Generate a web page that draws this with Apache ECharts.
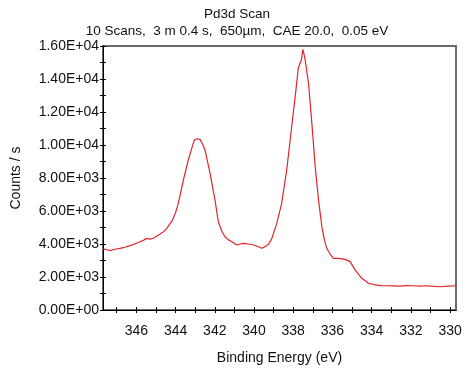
<!DOCTYPE html>
<html>
<head>
<meta charset="utf-8">
<script src="https://cdn.jsdelivr.net/npm/echarts@6/dist/echarts.min.js"></script>
<style>html,body{margin:0;padding:0;background:#fff}#c{width:474px;height:392px}</style>
</head>
<body>
<div id="c"></div>
<script>
const titleText = 'Pd3d Scan';
const subtitleText = '10 Scans,  3 m 0.4 s,  650\u00b5m,  CAE 20.0,  0.05 eV';
const xName = 'Binding Energy (eV)';
const yName = 'Counts / s';

const energy = [347.68, 347.5, 347.34, 347.1, 346.83, 346.6, 346.32, 346.1, 345.81, 345.6, 345.47, 345.3, 345.13, 344.95, 344.79, 344.6, 344.45, 344.3, 344.2, 344.0, 343.86, 343.6, 343.35, 343.15, 343.04, 342.9, 342.75, 342.6, 342.5, 342.24, 341.99, 341.82, 341.65, 341.48, 341.3, 341.13, 340.88, 340.7, 340.54, 340.3, 340.03, 339.8, 339.6, 339.43, 339.25, 339.09, 338.84, 338.6, 338.33, 338.07, 337.9, 337.74, 337.65, 337.58, 337.51, 337.45, 337.39, 337.22, 337.05, 336.88, 336.71, 336.54, 336.4, 336.29, 336.1, 335.95, 335.7, 335.5, 335.35, 335.1, 334.84, 334.5, 334.16, 333.82, 333.5, 333.23, 332.9, 332.55, 332.2, 331.87, 331.5, 331.18, 330.8, 330.5, 330.1, 329.74];
const counts = [3700, 3650, 3600, 3680, 3740, 3800, 3900, 4000, 4140, 4250, 4340, 4300, 4350, 4480, 4600, 4750, 4950, 5200, 5350, 5900, 6460, 7880, 9090, 9900, 10300, 10380, 10340, 10000, 9700, 8280, 6670, 5350, 4800, 4440, 4250, 4140, 3940, 4000, 4040, 4000, 3940, 3850, 3740, 3840, 4000, 4340, 5250, 6400, 8500, 11200, 12930, 14700, 14950, 15200, 15800, 15500, 15150, 13740, 11310, 8690, 6670, 5050, 4200, 3740, 3350, 3130, 3130, 3100, 3070, 2930, 2420, 1920, 1620, 1520, 1480, 1470, 1460, 1450, 1480, 1470, 1450, 1470, 1430, 1410, 1450, 1470];

const xTicks = [330, 331, 332, 333, 334, 335, 336, 337, 338, 339, 340, 341, 342, 343, 344, 345, 346, 347];
const xLabels = [330, 332, 334, 336, 338, 340, 342, 344, 346];
const yTicks = [0, 1000, 2000, 3000, 4000, 5000, 6000, 7000, 8000, 9000, 10000, 11000, 12000, 13000, 14000, 15000, 16000];
const yLabels = [0, 2000, 4000, 6000, 8000, 10000, 12000, 14000, 16000];

const FONT = 'Liberation Sans, Arial, sans-serif';
function sci(v) {
  const s = Number(v).toExponential(2).toUpperCase();
  const m = s.match(/^(-?[\d.]+)E([+-])(\d+)$/);
  if (!m) return s;
  return m[1] + 'E' + m[2] + (m[3].length < 2 ? '0' + m[3] : m[3]);
}

const chart = echarts.init(document.getElementById('c'), null, {renderer: 'canvas'});
const xBase = {type: 'value', min: 329.7, max: 347.7, inverse: true, splitLine: {show: false}};
const yBase = {type: 'value', min: 0, max: 16000, splitLine: {show: false}};
chart.setOption({
  animation: false,
  backgroundColor: '#fff',
  title: {
    text: titleText,
    subtext: subtitleText,
    left: 'center',
    top: 2,
    itemGap: 3,
    textStyle: {fontFamily: FONT, fontSize: 13.5, fontWeight: 'normal', color: '#111'},
    subtextStyle: {fontFamily: FONT, fontSize: 13.5, color: '#111'}
  },
  grid: {left: 103, right: 18, top: 46, bottom: 82, show: true, borderColor: '#6a6a6a', borderWidth: 2, backgroundColor: 'transparent'},
  xAxis: [
    Object.assign({}, xBase, {
      position: 'bottom',
      name: xName, nameLocation: 'middle', nameGap: 41,
      nameTextStyle: {fontFamily: FONT, fontSize: 14, color: '#111'},
      axisLine: {show: true, lineStyle: {color: '#000', width: 1}},
      axisTick: {show: true, inside: false, length: 3, lineStyle: {color: '#000'}, customValues: xTicks},
      axisLabel: {show: true, margin: 14, fontFamily: FONT, fontSize: 14, color: '#111', customValues: xLabels, formatter: v => String(Math.round(v))}
    }),
    Object.assign({}, xBase, {
      position: 'bottom',
      axisLine: {show: false},
      axisTick: {show: true, inside: true, length: 3, lineStyle: {color: '#000'}, customValues: xTicks},
      axisLabel: {show: false}
    })
  ],
  yAxis: [
    Object.assign({}, yBase, {
      position: 'left',
      name: yName, nameLocation: 'middle', nameGap: 80, nameRotate: 90,
      nameTextStyle: {fontFamily: FONT, fontSize: 14, color: '#111'},
      axisLine: {show: true, lineStyle: {color: '#000', width: 1}},
      axisTick: {show: true, inside: false, length: 3, lineStyle: {color: '#000'}, customValues: yTicks},
      axisLabel: {show: true, margin: 4, fontFamily: FONT, fontSize: 14, color: '#111', customValues: yLabels, formatter: v => sci(v)}
    }),
    Object.assign({}, yBase, {
      position: 'left',
      axisLine: {show: false},
      axisTick: {show: true, inside: true, length: 3, lineStyle: {color: '#000'}, customValues: yTicks},
      axisLabel: {show: false}
    })
  ],
  series: [{
    type: 'line',
    xAxisIndex: 0,
    yAxisIndex: 0,
    data: energy.map((e, i) => [e, counts[i]]),
    showSymbol: false,
    lineStyle: {color: '#e3242b', width: 1.2},
    z: 3
  }]
});
</script>
</body>
</html>
